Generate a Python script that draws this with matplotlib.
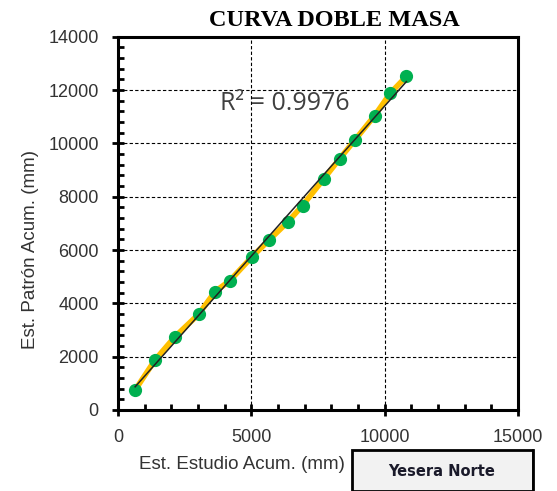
import numpy as np
import matplotlib.pyplot as plt
from matplotlib.ticker import MultipleLocator
from matplotlib.patches import Rectangle

# cumulative precipitation (mm)
est_estudio = [640, 1386, 2135, 3034, 3633, 4195, 5007, 5668, 6355, 6917,
               7715, 8315, 8888, 9625, 10212, 10812]
est_patron = [750, 1877, 2752, 3604, 4441, 4854, 5731, 6381, 7045, 7670,
              8671, 9435, 10135, 11047, 11888, 12512]
r2_label = "R² = 0.9976"
station = "Yesera Norte"

x = np.array(est_estudio)
y = np.array(est_patron)
m, b = np.polyfit(x, y, 1)

fig = plt.figure(figsize=(5.57, 4.91), dpi=100)
ax = fig.add_axes([0.212, 0.165, 0.718, 0.760])

ax.plot(x, y, color='#FFC000', lw=4, zorder=3, solid_capstyle='round')
ax.plot(x, y, 'o', color='#00B050', ms=8.5, zorder=4)
xt = np.array([x.min(), x.max()])
ax.plot(xt, m * xt + b, color='#222222', lw=1.1, zorder=5)

ax.set_xlim(0, 15000)
ax.set_ylim(0, 14000)
ax.xaxis.set_major_locator(MultipleLocator(5000))
ax.xaxis.set_minor_locator(MultipleLocator(1000))
ax.yaxis.set_major_locator(MultipleLocator(2000))
ax.yaxis.set_minor_locator(MultipleLocator(400))
ax.tick_params(which='major', direction='inout', length=8, width=2,
               labelsize=13, pad=10)
ax.tick_params(which='minor', direction='in', length=4, width=2)
ax.tick_params(top=False, right=False)
for lab in ax.get_xticklabels() + ax.get_yticklabels():
    lab.set_family('Liberation Sans')
    lab.set_color('#333333')

for s in ax.spines.values():
    s.set_linewidth(2.2)

ax.grid(True, which='major', color='black', ls=(0, (3, 2)), lw=0.8)

ax.set_xlabel('Est. Estudio Acum. (mm)', family='Liberation Sans',
              fontsize=13.5, color='#333333', va='center')
ax.xaxis.set_label_coords(0.31, -0.147)
ax.set_ylabel('Est. Patrón Acum. (mm)', family='Liberation Sans',
              fontsize=13.5, color='#333333', va='center')
ax.yaxis.set_label_coords(-0.22, 0.43)

ax.text(3820, 11260, r2_label, fontsize=18, family='Open Sans',
        color='#404040', va='baseline', zorder=6)

fig.text(334 / 557, 1 - 20 / 491, 'CURVA DOBLE MASA', family='Liberation Serif',
         fontweight='bold', fontsize=17.5, ha='center', va='center')

# station name box with double edge on the right
fig.patches.append(Rectangle((351.5 / 557, 0), 181 / 557, 41 / 491,
                             transform=fig.transFigure, facecolor='#F2F2F2',
                             edgecolor='black', lw=2, zorder=1))
fig.lines.append(plt.Line2D([533 / 557, 533 / 557], [0, 41 / 491],
                            transform=fig.transFigure, color='black', lw=1.2))
fig.text(442 / 557, 20 / 491, station, family='DejaVu Sans', fontweight='bold',
         fontsize=10.5, ha='center', va='center', color='#1a1a2a')

fig.savefig('out.png', dpi=100)
